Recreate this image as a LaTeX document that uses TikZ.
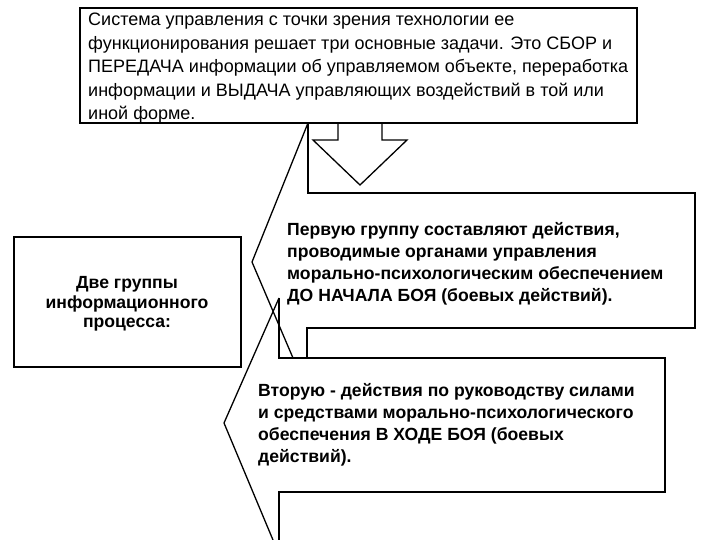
\documentclass[tikz,border=0pt]{standalone}
\usepackage{fontspec}
\setmainfont{Liberation Sans}
\begin{document}
\begin{tikzpicture}[x=1pt,y=-1pt,line join=miter,
  edge/.style={draw=black,line width=1.3pt},
  txt/.style={align=left,inner sep=0pt,anchor=north west,font=\fontsize{18}{23.5}\selectfont},
  btxt/.style={align=left,inner sep=0pt,anchor=north west,font=\bfseries\fontsize{17.6}{22}\selectfont}]
\useasboundingbox (0,0) rectangle (720,540);
% top box
\draw[edge] (80,8) rectangle (637,123);
\draw[line width=2.4pt] (80,123) -- (80,8) -- (637,8);
\node[txt] (top) at (88,13) {Система управления с точки зрения технологии ее\\функционирования решает три основные задачи. Это СБОР и\\ПЕРЕДАЧА информации об управляемом объекте, переработка\\информации и ВЫДАЧА управляющих воздействий в той или\\иной форме.};
% down arrow
\draw[edge] (338,123) -- (338,140) -- (313,140) -- (360,185) -- (407,140) -- (382,140) -- (382,123);
% upper callout
\draw[edge] (308,123) -- (308,193) -- (695,193) -- (695,328) -- (307,328) -- (307,358);
\draw[edge] (308,123) -- (252,262) -- (293,358);
% lower callout
\draw[edge] (279,298) -- (279,358) -- (665,358) -- (665,492) -- (279,492) -- (279,540);
\draw[edge] (279,298) -- (224,423) -- (273,540);
% left box
\draw[edge] (14,237) rectangle (241,367);
\node[align=center,inner sep=0pt,font=\bfseries\fontsize{17.6}{19.5}\selectfont] (left) at (127,304) {Две группы\\информационного\\процесса:};
\node[btxt] (first) at (287,222) {Первую группу составляют действия,\\проводимые органами управления\\морально-психологическим обеспечением\\ДО НАЧАЛА БОЯ (боевых действий).};
\node[btxt] (second) at (258,383) {Вторую - действия по руководству силами\\и средствами морально-психологического\\обеспечения В ХОДЕ БОЯ (боевых\\действий).};
\end{tikzpicture}
\end{document}
